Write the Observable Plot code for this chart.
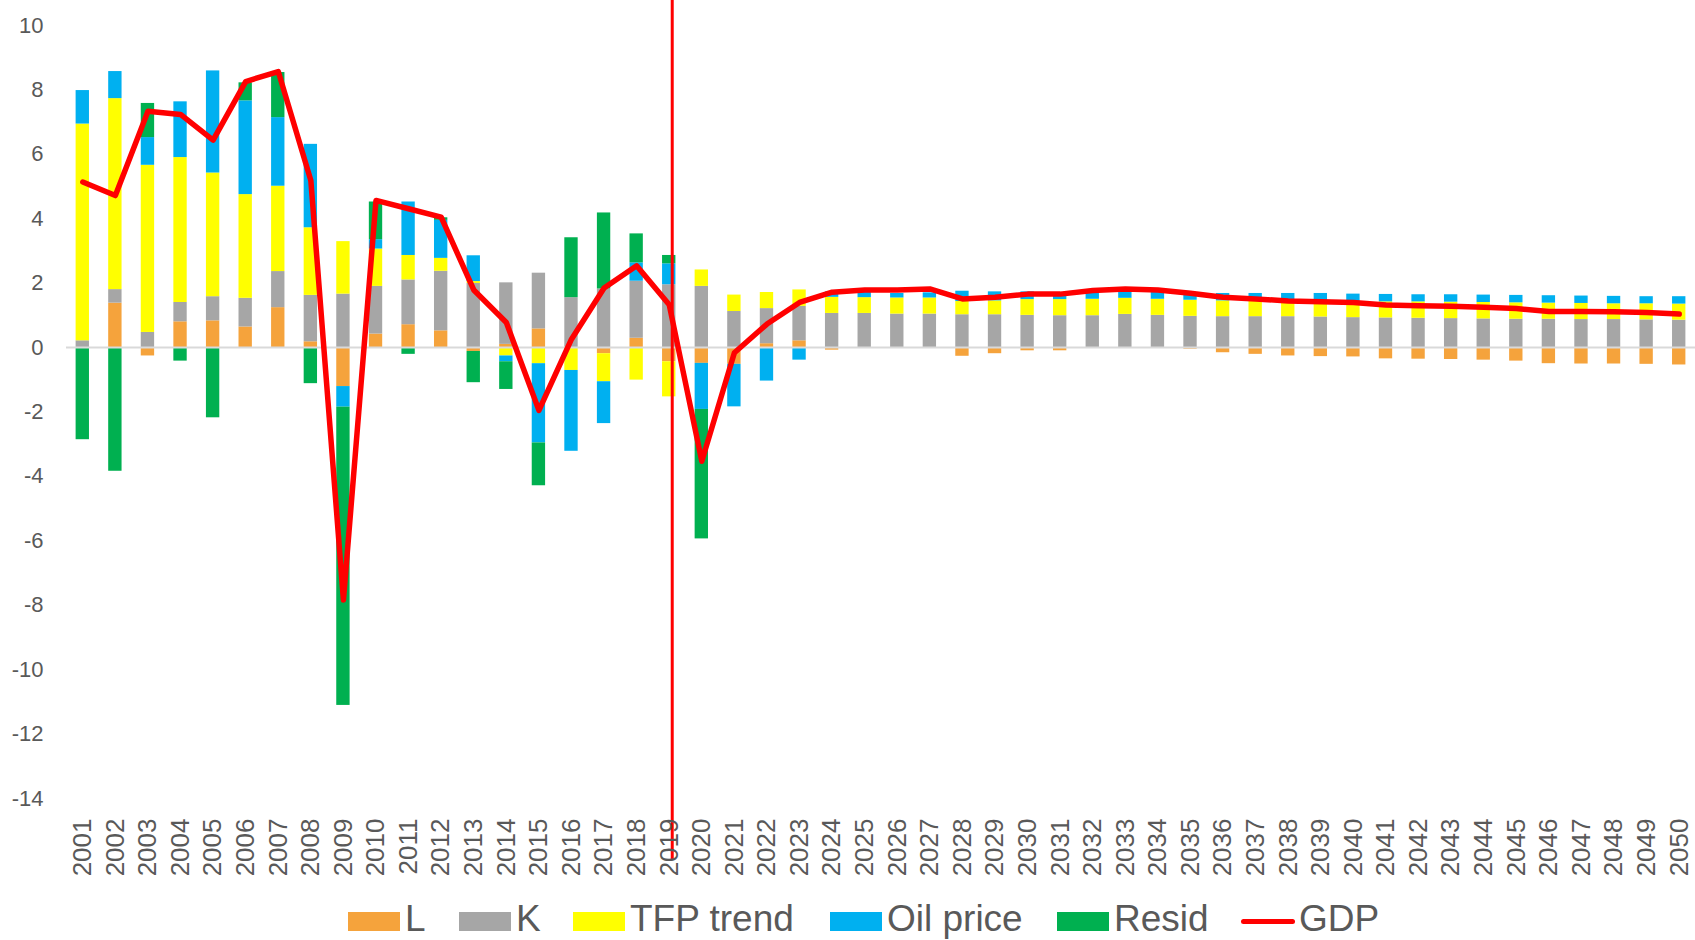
<!DOCTYPE html>
<html><head><meta charset="utf-8">
<script src="https://cdn.jsdelivr.net/npm/d3@7"></script>
<script src="https://cdn.jsdelivr.net/npm/@observablehq/plot@0.6"></script>
<style>
body{margin:0;background:#fff;font-family:"Liberation Sans",Arial,sans-serif;}
#wrap{position:relative;width:1695px;height:940px;overflow:hidden;background:#fff;}
#legend{position:absolute;top:901.5px;left:0;width:1695px;height:34px;font-size:37px;line-height:34px;color:#595959;white-space:nowrap;}
.sw{position:absolute;width:52px;height:19px;top:10.5px;}
.ln{position:absolute;width:54px;height:5px;border-radius:3px;top:17px;}
.tx{position:absolute;top:0;}
</style></head><body><div id="wrap"><div id="chart"></div><div id="legend"></div></div>
<script>
const years = ["2001","2002","2003","2004","2005","2006","2007","2008","2009","2010",
"2011","2012","2013","2014","2015","2016","2017","2018","2019","2020",
"2021","2022","2023","2024","2025","2026","2027","2028","2029","2030",
"2031","2032","2033","2034","2035","2036","2037","2038","2039","2040",
"2041","2042","2043","2044","2045","2046","2047","2048","2049","2050"];

const seriesNames = ["L", "K", "TFP trend", "Oil price", "Resid"];
const seriesColors = ["#F5A33C", "#A6A6A6", "#FFFF00", "#00B0F0", "#00B050"];

const L = [0, 1.38, -0.26, 0.80, 0.83, 0.64, 1.24, 0.18, -1.21, 0.42,
  0.71, 0.52, -0.12, 0.10, 0.58, 0, -0.19, 0.29, -0.44, -0.49,
  -0.52, 0.12, 0.21, -0.08, 0, 0, 0, -0.27, -0.19, -0.10,
  -0.10, 0, -0.02, 0, -0.05, -0.16, -0.21, -0.26, -0.28, -0.29,
  -0.35, -0.36, -0.37, -0.39, -0.42, -0.50, -0.51, -0.51, -0.52, -0.54];
const K = [0.21, 0.42, 0.47, 0.60, 0.75, 0.89, 1.12, 1.44, 1.66, 1.48,
  1.39, 1.85, 1.99, 1.91, 1.73, 1.55, 1.82, 1.77, 1.95, 1.90,
  1.12, 1.09, 1.07, 1.06, 1.06, 1.04, 1.04, 1.02, 1.02, 1.00,
  0.99, 0.99, 1.03, 1.00, 0.97, 0.96, 0.96, 0.96, 0.95, 0.93,
  0.92, 0.91, 0.90, 0.89, 0.88, 0.88, 0.87, 0.87, 0.86, 0.85];
const TFP = [6.73, 5.93, 5.19, 4.50, 3.84, 3.22, 2.65, 2.10, 1.63, 1.16,
  0.76, 0.40, 0.06, -0.26, -0.50, -0.71, -0.87, -1.01, -1.09, 0.51,
  0.51, 0.50, 0.51, 0.50, 0.49, 0.50, 0.50, 0.41, 0.43, 0.49,
  0.50, 0.51, 0.50, 0.50, 0.50, 0.49, 0.49, 0.49, 0.48, 0.50,
  0.50, 0.51, 0.51, 0.51, 0.51, 0.50, 0.50, 0.49, 0.50, 0.50];
const Oil = [1.04, 0.84, 0.86, 1.73, 3.17, 2.91, 2.13, 2.59, -0.64, 0.29,
  1.66, 1.18, 0.80, -0.18, -2.46, -2.51, -1.30, 0.57, 0.65, -1.43,
  -1.32, -1.04, -0.39, 0.17, 0.16, 0.14, 0.16, 0.32, 0.28, 0.24,
  0.22, 0.24, 0.26, 0.27, 0.21, 0.23, 0.23, 0.23, 0.25, 0.23,
  0.23, 0.22, 0.23, 0.23, 0.23, 0.23, 0.23, 0.23, 0.22, 0.23];
const Resid = [-2.86, -3.84, 1.06, -0.42, -2.18, 0.56, 1.40, -1.12, -9.26, 1.17,
  -0.21, 0.08, -0.97, -0.86, -1.33, 1.86, 2.36, 0.90, 0.26, -4.02,
  0, 0, 0, 0, 0, 0, 0, 0, 0, 0,
  0, 0, 0, 0, 0, 0, 0, 0, 0, 0,
  0, 0, 0, 0, 0, 0, 0, 0, 0, 0];
const GDP = [5.14, 4.72, 7.34, 7.24, 6.44, 8.26, 8.57, 5.19, -7.84, 4.57,
  4.31, 4.05, 1.79, 0.78, -1.95, 0.26, 1.85, 2.54, 1.33, -3.53,
  -0.16, 0.73, 1.40, 1.72, 1.79, 1.79, 1.82, 1.51, 1.56, 1.66,
  1.66, 1.77, 1.82, 1.79, 1.69, 1.56, 1.51, 1.45, 1.42, 1.40,
  1.32, 1.30, 1.28, 1.25, 1.21, 1.12, 1.12, 1.11, 1.09, 1.04];

// vertical marker at the last historical year
const markerYear = ["2019"];
const markerFrom = [-15.9];
const markerTo = [10.8];

const yTicks = [-14, -12, -10, -8, -6, -4, -2, 0, 2, 4, 6, 8, 10];

const seriesValues = [L, K, TFP, Oil, Resid];
const rows = [];
years.forEach((yr, i) => {
  seriesNames.forEach((s, j) => rows.push({year: yr, series: s, value: seriesValues[j][i]}));
});
const gdpRows = years.map((yr, i) => ({year: yr, value: GDP[i]}));
const markerRows = markerYear.map((yr, i) => ({year: yr, from: markerFrom[i], to: markerTo[i]}));

const chart = Plot.plot({
  width: 1695, height: 885,
  marginTop: 25, marginBottom: 87, marginLeft: 66, marginRight: 0,
  style: {fontFamily: '"Liberation Sans", Arial, sans-serif', color: "#595959", background: "white", overflow: "visible"},
  x: {type: "band", domain: years, paddingInner: 0.59, paddingOuter: 0.295, round: false, axis: null, label: null},
  y: {domain: [-14, 10], axis: null, label: null},
  color: {domain: seriesNames, range: seriesColors},
  marks: [
    Plot.barY(rows, Plot.stackY({x: "year", y: "value", fill: "series", order: seriesNames})),
    Plot.ruleY([0], {stroke: "#D9D9D9", strokeWidth: 2}),
    Plot.line(gdpRows, {x: "year", y: "value", stroke: "#FF0000", strokeWidth: 5.5, strokeLinejoin: "round", strokeLinecap: "round"}),
    Plot.ruleX(markerRows, {x: "year", y1: "from", y2: "to", stroke: "#FF0000", strokeWidth: 3, dx: 3}),
    Plot.axisY({ticks: yTicks, tickSize: 0, tickPadding: 23, fontSize: 22, tickFormat: d => String(d), label: null}),
    Plot.axisX({tickRotate: -90, tickSize: 0, tickPadding: 20, fontSize: 26, label: null})
  ]
});
document.getElementById("chart").appendChild(chart);

const legendItems = seriesNames.map((s, j) => ({label: s, color: seriesColors[j], kind: "box"}))
  .concat([{label: "GDP", color: "#FF0000", kind: "line"}]);
const legendX = [348, 459, 573, 830, 1057, 1241];
const lg = document.getElementById("legend");
legendItems.forEach((it, i) => {
  const sw = document.createElement("div"); sw.className = it.kind === "box" ? "sw" : "ln";
  sw.style.background = it.color; sw.style.left = legendX[i] + "px";
  const t = document.createElement("span"); t.className = "tx"; t.textContent = it.label;
  t.style.left = (legendX[i] + (it.kind === "box" ? 57 : 58)) + "px";
  lg.appendChild(sw); lg.appendChild(t);
});
</script></body></html>
